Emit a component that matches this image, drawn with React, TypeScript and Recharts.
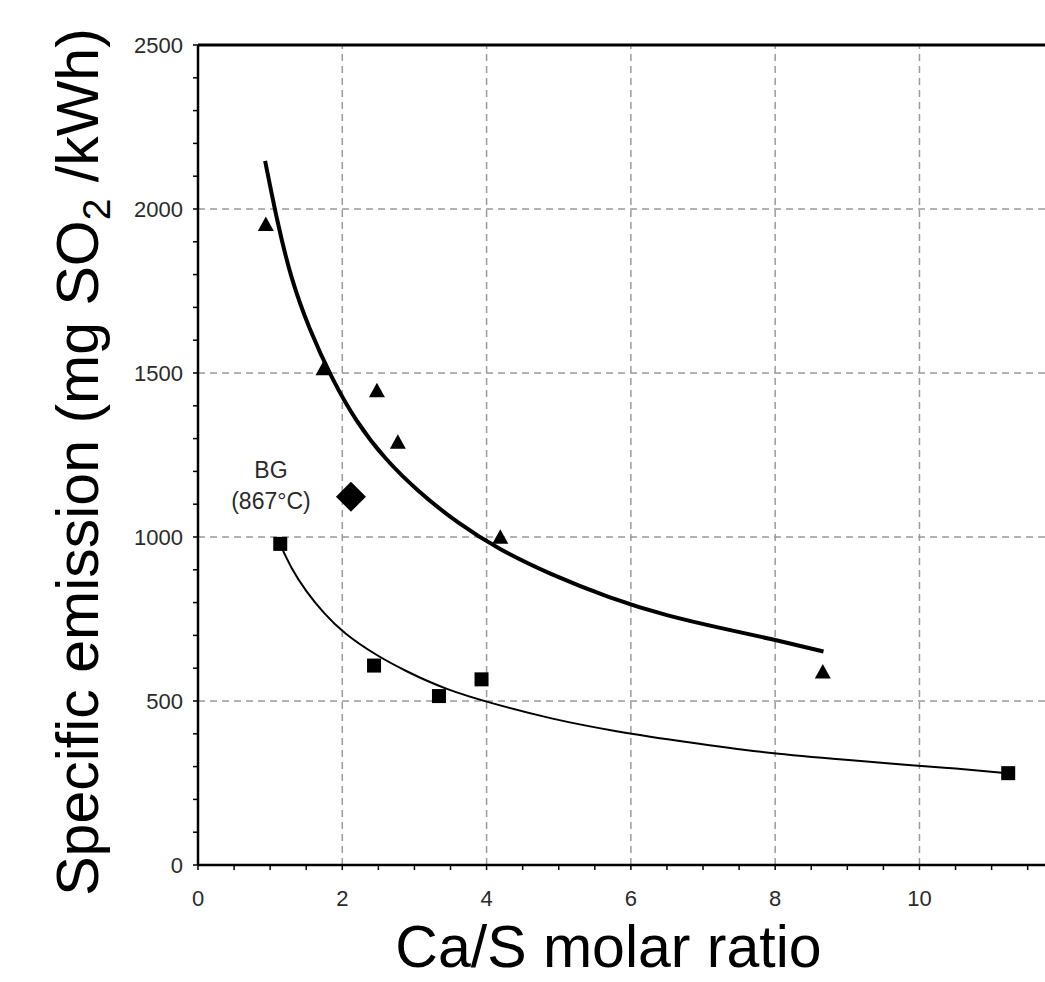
import {
  ComposedChart,
  Line,
  Scatter,
  XAxis,
  YAxis,
  ReferenceLine,
  Label,
} from "recharts";

// measured points (Ca/S ratio, mg SO2/kWh)
const triangles = [
  { x: 0.94, y: 1950 },
  { x: 1.74, y: 1510 },
  { x: 2.48, y: 1443 },
  { x: 2.77, y: 1286 },
  { x: 4.19, y: 996 },
  { x: 8.66, y: 585 },
];

const squares = [
  { x: 1.14, y: 979 },
  { x: 2.44, y: 608 },
  { x: 3.34, y: 515 },
  { x: 3.93, y: 566 },
  { x: 11.23, y: 280 },
];

const bgPoint = [{ x: 2.12, y: 1123 }];

// fitted curves
const upperCurve = [
  { x: 0.93, y: 2147 },
  { x: 1.1, y: 1965 },
  { x: 1.3, y: 1790 },
  { x: 1.55, y: 1635 },
  { x: 1.85, y: 1490 },
  { x: 2.2, y: 1355 },
  { x: 2.6, y: 1240 },
  { x: 3.05, y: 1142 },
  { x: 3.6, y: 1045 },
  { x: 4.2, y: 962 },
  { x: 4.9, y: 887 },
  { x: 5.7, y: 817 },
  { x: 6.5, y: 762 },
  { x: 7.3, y: 720 },
  { x: 8.0, y: 686 },
  { x: 8.67, y: 651 },
];

const lowerCurve = [
  { x: 1.14, y: 976 },
  { x: 1.3, y: 905 },
  { x: 1.5, y: 836 },
  { x: 1.75, y: 768 },
  { x: 2.05, y: 705 },
  { x: 2.45, y: 644 },
  { x: 2.9, y: 590 },
  { x: 3.45, y: 537 },
  { x: 4.1, y: 492 },
  { x: 4.9, y: 447 },
  { x: 5.8, y: 408 },
  { x: 6.8, y: 374 },
  { x: 7.8, y: 345 },
  { x: 8.8, y: 324 },
  { x: 9.8, y: 306 },
  { x: 10.5, y: 294 },
  { x: 11.22, y: 280 },
];

const xTicks = [0, 0.5, 1, 1.5, 2, 2.5, 3, 3.5, 4, 4.5, 5, 5.5, 6, 6.5, 7, 7.5, 8, 8.5, 9, 9.5, 10, 10.5, 11, 11.5];
const yTicks = [0, 100, 200, 300, 400, 500, 600, 700, 800, 900, 1000, 1100, 1200, 1300, 1400, 1500, 1600, 1700, 1800, 1900, 2000, 2100, 2200, 2300, 2400, 2500];
const xGrid = [2, 4, 6, 8, 10];
const yGrid = [500, 1000, 1500, 2000];

const FONT = "'Liberation Sans', Arial, Helvetica, sans-serif";

const Triangle = ({ cx, cy }: any) => (
  <polygon
    points={`${cx},${cy - 9} ${cx - 8},${cy + 5.5} ${cx + 8},${cy + 5.5}`}
    fill="#000"
  />
);

const Square = ({ cx, cy }: any) => (
  <rect x={cx - 7} y={cy - 7} width={14} height={14} fill="#000" />
);

const Diamond = ({ cx, cy }: any) => (
  <g>
    <polygon
      points={`${cx},${cy - 15} ${cx + 15},${cy} ${cx},${cy + 15} ${cx - 15},${cy}`}
      fill="#000"
    />
    <text
      x={cx - 80}
      y={cy - 27}
      textAnchor="middle"
      dominantBaseline="central"
      fontSize={23}
      fontFamily={FONT}
      fill="#2a2a2a"
    >
      BG
    </text>
    <text
      x={cx - 80}
      y={cy + 4}
      textAnchor="middle"
      dominantBaseline="central"
      fontSize={23}
      fontFamily={FONT}
      fill="#2a2a2a"
    >
      (867°C)
    </text>
  </g>
);

const YTitle = ({ viewBox }: any) => {
  const x = viewBox.x + 98;
  const y = viewBox.y + viewBox.height / 2 + 7;
  return (
    <text
      x={x}
      y={y}
      transform={`rotate(-90 ${x} ${y})`}
      textAnchor="middle"
      fontSize={59}
      fontFamily={FONT}
      fill="#000"
    >
      <tspan>Specific emission (mg SO</tspan>
      <tspan fontSize={39} dy={12}>2</tspan>
      <tspan dy={-12}> /kWh)</tspan>
    </text>
  );
};

const XTitle = ({ viewBox }: any) => {
  const x = viewBox.x + viewBox.width / 2 - 13;
  const y = viewBox.y + 102;
  return (
    <text x={x} y={y} textAnchor="middle" fontSize={59} fontFamily={FONT} fill="#000">
      Ca/S molar ratio
    </text>
  );
};

const gridStroke = { stroke: "#9a9a9a", strokeWidth: 1.5, strokeDasharray: "7 5" };
const tickStyle = { fill: "#2a2a2a", fontSize: 22, fontFamily: FONT };

export default function App() {
  return (
    <div style={{ position: "absolute", left: 0, top: 0, background: "#fff" }}>
      <ComposedChart
        width={1045}
        height={982}
        margin={{ top: 45, right: 0, bottom: 0, left: 0 }}
      >
        <XAxis
          dataKey="x"
          type="number"
          domain={[0, 11.74]}
          allowDataOverflow
          ticks={xTicks}
          interval={0}
          height={117}
          tickSize={5}
          tickMargin={20}
          tickFormatter={(v: number) => (v % 2 === 0 ? String(v) : "")}
          axisLine={{ stroke: "#000", strokeWidth: 2.5 }}
          tickLine={{ stroke: "#000", strokeWidth: 1.5 }}
          tick={tickStyle}
        >
          <Label content={<XTitle />} />
        </XAxis>
        <YAxis
          type="number"
          domain={[0, 2500]}
          ticks={yTicks}
          interval={0}
          width={198}
          tickSize={5}
          tickMargin={10}
          tickFormatter={(v: number) => (v % 500 === 0 ? String(v) : "")}
          axisLine={{ stroke: "#000", strokeWidth: 2.5 }}
          tickLine={{ stroke: "#000", strokeWidth: 1.5 }}
          tick={tickStyle}
        >
          <Label content={<YTitle />} />
        </YAxis>

        {xGrid.map((v) => (
          <ReferenceLine key={`gx${v}`} x={v} {...gridStroke} />
        ))}
        {yGrid.map((v) => (
          <ReferenceLine key={`gy${v}`} y={v} {...gridStroke} />
        ))}
        <ReferenceLine y={2500} stroke="#000" strokeWidth={3} />

        <Line
          data={upperCurve}
          dataKey="y"
          type="natural"
          stroke="#000"
          strokeWidth={4}
          dot={false}
          activeDot={false}
          isAnimationActive={false}
        />
        <Line
          data={lowerCurve}
          dataKey="y"
          type="natural"
          stroke="#000"
          strokeWidth={2}
          dot={false}
          activeDot={false}
          isAnimationActive={false}
        />
        <Scatter data={triangles} dataKey="y" shape={<Triangle />} isAnimationActive={false} />
        <Scatter data={squares} dataKey="y" shape={<Square />} isAnimationActive={false} />
        <Scatter data={bgPoint} dataKey="y" shape={<Diamond />} isAnimationActive={false} />
      </ComposedChart>
    </div>
  );
}
